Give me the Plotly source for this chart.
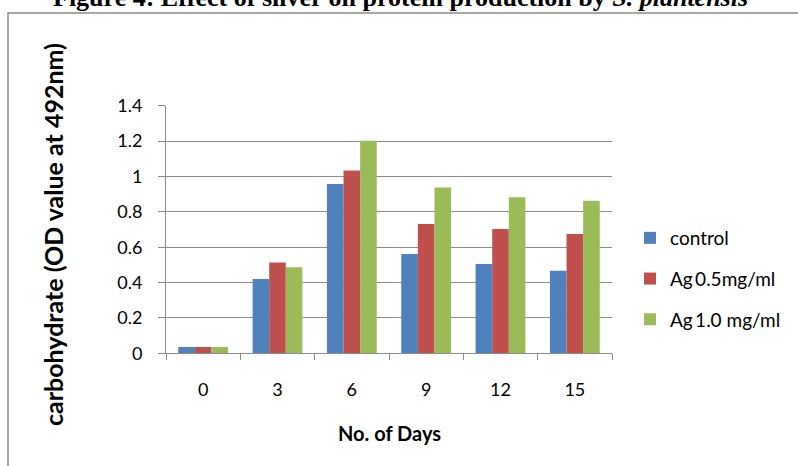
import plotly.graph_objects as go

W, H = 798, 466

days = ["0", "3", "6", "9", "12", "15"]
control = [0.035, 0.42, 0.957, 0.561, 0.505, 0.467]
ag_05 = [0.035, 0.514, 1.034, 0.731, 0.703, 0.674]
ag_10 = [0.035, 0.486, 1.202, 0.938, 0.882, 0.863]
series_names = ["control", "Ag\u20090.5mg/ml", "Ag\u20091.0 mg/ml"]
series_colors = ["#4F81BD", "#C0504D", "#9BBB59"]
y_ticks = [0, 0.2, 0.4, 0.6, 0.8, 1, 1.2, 1.4]

def px_x(x):
    return x / W

def px_y(y):
    return 1 - y / H

fig = go.Figure()
for i, (name, vals, col) in enumerate(zip(series_names, [control, ag_05, ag_10], series_colors)):
    fig.add_trace(go.Bar(
        x=days, y=vals, name=name, marker_color=col,
        marker_line_width=0, legendgroup=f"g{i}",
    ))

font_family = "Lato, Calibri, sans-serif"
axis_grey = "#8C8C8C"

fig.update_layout(
    width=W, height=H,
    margin=dict(l=0, r=0, t=0, b=0, autoexpand=False),
    paper_bgcolor="white", plot_bgcolor="white",
    barmode="group", bargap=0.33, bargroupgap=0,
    font=dict(family=font_family, color="#000000"),
    showlegend=True,
    legend=dict(
        x=px_x(630), y=px_y(219), xanchor="left", yanchor="top",
        font=dict(size=19, family=font_family, color="#000000"),
        tracegroupgap=13, bgcolor="rgba(0,0,0,0)",
    ),
    xaxis=dict(
        domain=[px_x(166), px_x(612)],
        type="category", automargin=False,
        showline=True, linecolor=axis_grey, linewidth=1,
        ticks="outside", tickson="boundaries", ticklen=6, tickcolor=axis_grey,
        tickfont=dict(size=18, family=font_family),
        ticklabelstandoff=20,
        showgrid=False,
    ),
    yaxis=dict(
        domain=[px_y(353.3), px_y(105.7)],
        range=[0, 1.4], automargin=False,
        tickvals=y_ticks,
        ticktext=[f"{v:g}" for v in y_ticks],
        showline=True, linecolor=axis_grey, linewidth=1,
        ticks="outside", ticklen=7, tickcolor=axis_grey,
        showgrid=True, gridcolor=axis_grey, gridwidth=1,
        zeroline=False,
        tickfont=dict(size=18, family=font_family),
        ticklabelstandoff=12,
    ),
    shapes=[
        dict(type="rect", xref="paper", yref="paper",
             x0=px_x(8), x1=px_x(810), y0=px_y(480), y1=px_y(13),
             line=dict(color="#8A8A8A", width=1.5), fillcolor="rgba(0,0,0,0)",
             layer="below"),
    ],
    annotations=[
        dict(text="<b>Figure 4: Effect of silver on protein production by <i>S. plantensis</i></b>",
             xref="paper", yref="paper", x=px_x(400), y=px_y(-2),
             xanchor="center", yanchor="middle", showarrow=False,
             font=dict(family="Liberation Serif, Times New Roman, serif", size=26, color="#000000")),
        dict(text="<b>carbohydrate (OD value at 492nm)</b>",
             xref="paper", yref="paper", x=px_x(53), y=px_y(235),
             xanchor="center", yanchor="middle", textangle=-90, showarrow=False,
             font=dict(family=font_family, size=25, color="#000000")),
        dict(text="<b>No. of Days</b>",
             xref="paper", yref="paper", x=px_x(389), y=px_y(433),
             xanchor="center", yanchor="middle", showarrow=False,
             font=dict(family=font_family, size=20, color="#000000")),
    ],
)

fig.write_html("out.html")
